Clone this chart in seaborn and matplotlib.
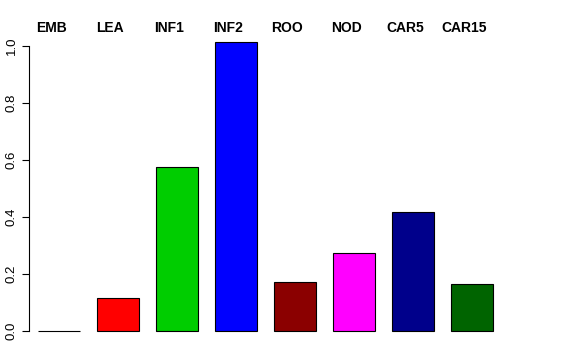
import pandas as pd
import matplotlib
matplotlib.use("Agg")
import matplotlib.pyplot as plt
import seaborn as sns

# values
tissues = ["EMB", "LEA", "INF1", "INF2", "ROO", "NOD", "CAR5", "CAR15"]
values = [0.0, 0.115, 0.575, 1.015, 0.172, 0.274, 0.418, 0.166]
colours = ["#000000", "#FF0000", "#00CD00", "#0000FF", "#8B0000", "#FF00FF", "#00008B", "#006400"]

df = pd.DataFrame({"tissue": tissues, "value": values})

sns.set_style("white")
plt.rcParams["font.family"] = ["Liberation Sans", "DejaVu Sans"]

fig = plt.figure(figsize=(5.76, 3.6), dpi=100)
ax = fig.add_axes([0.0503, 0.0806, 0.820, 0.823])

sns.barplot(data=df, x="tissue", y="value", hue="tissue", order=tissues,
            palette=dict(zip(tissues, colours)), legend=False, width=0.71,
            edgecolor="black", linewidth=0.8, saturation=1, ax=ax)
for p in ax.patches:
    p.set_clip_on(False)

ax.set_xlim(-0.51, 7.5)
ax.set_ylim(0, 1.04)
ax.set_xlabel("")
ax.set_ylabel("")
ax.set_xticks([])
ax.set_yticks([0.0, 0.2, 0.4, 0.6, 0.8, 1.0])
ax.set_yticklabels(["0.0", "0.2", "0.4", "0.6", "0.8", "1.0"], rotation=90, va="center", fontsize=9.5, color="black")
ax.tick_params(axis="y", direction="out", length=5, width=0.8, left=True, pad=3, color="black")

for side in ["top", "right", "bottom"]:
    ax.spines[side].set_visible(False)
ax.spines["left"].set_bounds(0, 1.0)
ax.spines["left"].set_linewidth(0.8)
ax.spines["left"].set_color("black")

# tissue names above the bars
for i, name in enumerate(tissues):
    ax.text(i - 0.13, 1.022, name, ha="center", va="center", fontsize=10,
            fontweight="bold", color="black",
            transform=ax.get_xaxis_transform(), clip_on=False)

fig.savefig("out.png", dpi=100)
